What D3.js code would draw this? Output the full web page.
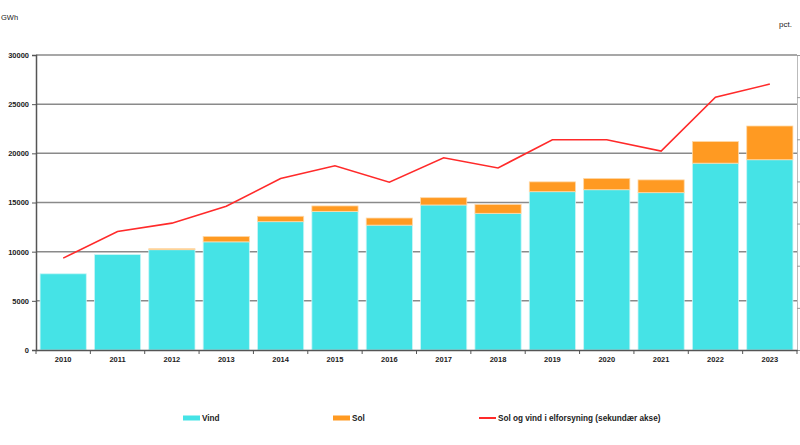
<!DOCTYPE html>
<html><head><meta charset="utf-8">
<script src="https://cdn.jsdelivr.net/npm/d3@7"></script>
<style>body{margin:0;background:#fff}svg{display:block;font-family:"Liberation Sans",Arial,sans-serif}</style>
</head><body><svg id="c" width="800" height="445"></svg>
<script>
const years = ["2010","2011","2012","2013","2014","2015","2016","2017","2018","2019","2020","2021","2022","2023"];
const vind = [7750,9700,10200,11000,13050,14100,12700,14750,13900,16100,16300,16000,19000,19350];
const sol  = [0,0,100,550,550,550,720,740,900,1000,1150,1300,2200,3430];
const andel = [21.8,28.1,30.1,34.1,40.7,43.7,39.8,45.6,43.2,49.9,49.9,47.2,60.0,63.1];
const leftTicks = [0,5000,10000,15000,20000,25000,30000];
const rightTicks = [0,10,20,30,40,50,60,70];

const svg = d3.select("#c");
const m = {l:36, r:797, t:55, b:350};
const x = d3.scaleBand().domain(years).range([m.l, m.r]).paddingInner(0.15).paddingOuter(0.075);
const y = d3.scaleLinear().domain([0,30000]).range([m.b, m.t]);
const y2 = d3.scaleLinear().domain([0,70]).range([m.b, m.t]);

// gridlines
svg.append("g").selectAll("line").data(leftTicks.filter(d=>d>0)).join("line")
  .attr("x1", m.l).attr("x2", m.r).attr("y1", d=>y(d)).attr("y2", d=>y(d))
  .attr("stroke", "#8a8a8a").attr("stroke-width", 1.5);

// bars
const stack = years.map((yr,i)=>({yr, v:vind[i], s:sol[i]}));
const bw = x.bandwidth();
svg.append("g").selectAll("rect").data(stack).join("rect")
  .attr("x", d=>x(d.yr)).attr("width", bw)
  .attr("y", d=>y(d.v)).attr("height", d=>y(0)-y(d.v))
  .attr("fill", "#45e3e6").attr("stroke", "#c9f6f7").attr("stroke-width", 0.8);
svg.append("g").selectAll("rect").data(stack.filter(d=>d.s>0)).join("rect")
  .attr("x", d=>x(d.yr)).attr("width", bw)
  .attr("y", d=>y(d.v+d.s)).attr("height", d=>y(d.v)-y(d.v+d.s))
  .attr("fill", "#ff9a22").attr("stroke", "#ffd9a8").attr("stroke-width", 0.8);

// line
const line = d3.line().x((d,i)=>x(years[i])+bw/2).y(d=>y2(d));
svg.append("path").datum(andel).attr("d", line).attr("fill","none")
  .attr("stroke","#ff2a2a").attr("stroke-width",1.6);

// left axis
const ga = svg.append("g").attr("transform",`translate(${m.l},0)`)
  .call(d3.axisLeft(y).tickValues(leftTicks).tickSize(4).tickPadding(3).tickFormat(d3.format("d")));
ga.select(".domain").attr("stroke","#555").attr("stroke-width",1.5);
ga.selectAll(".tick line").attr("stroke","#555");
ga.selectAll("text").attr("font-size",7.5).attr("font-weight","bold").attr("fill","#222")
  .attr("font-family","'Liberation Sans',Arial,sans-serif");

// right axis
const gr = svg.append("g").attr("transform",`translate(${m.r},0)`)
  .call(d3.axisRight(y2).tickValues(rightTicks).tickSize(3).tickFormat(""));
gr.select(".domain").attr("stroke","#bbb");
gr.selectAll(".tick line").attr("stroke","#999");

// bottom axis
const gb = svg.append("g").attr("transform",`translate(0,${m.b})`)
  .call(d3.axisBottom(x).tickSize(0).tickPadding(7));
gb.select(".domain").attr("stroke","#555").attr("stroke-width",1.5);
gb.selectAll("text").attr("font-size",7.5).attr("font-weight","bold").attr("fill","#222")
  .attr("font-family","'Liberation Sans',Arial,sans-serif");
svg.append("g").selectAll("line").data(d3.range(years.length+1)).join("line")
  .attr("x1", i=>m.l + i*(m.r-m.l)/years.length).attr("x2", i=>m.l + i*(m.r-m.l)/years.length)
  .attr("y1", m.b).attr("y2", m.b+4).attr("stroke","#555");

// unit labels
svg.append("text").attr("x",1).attr("y",20).attr("text-anchor","start")
  .attr("font-size",7.5).attr("fill","#222").text("GWh");
svg.append("text").attr("x",792).attr("y",27).attr("text-anchor","end")
  .attr("font-size",8).attr("fill","#222").text("pct.");

// legend
const leg = [
  {label:"Vind", x:183, type:"bar", color:"#45e3e6"},
  {label:"Sol", x:333, type:"bar", color:"#ff9a22"},
  {label:"Sol og vind i elforsyning (sekundær akse)", x:479, type:"line", color:"#ff2a2a"}
];
const lg = svg.append("g").selectAll("g").data(leg).join("g")
  .attr("transform", d=>`translate(${d.x},418)`);
lg.append("rect").attr("x",0).attr("width",17)
  .attr("y", d=>d.type==="bar"?-2.5:-1).attr("height", d=>d.type==="bar"?5:2)
  .attr("fill", d=>d.color);
lg.append("text").attr("x",19).attr("y",3).attr("font-size",8.2).attr("font-weight","bold")
  .attr("fill","#222").text(d=>d.label);
</script></body></html>
